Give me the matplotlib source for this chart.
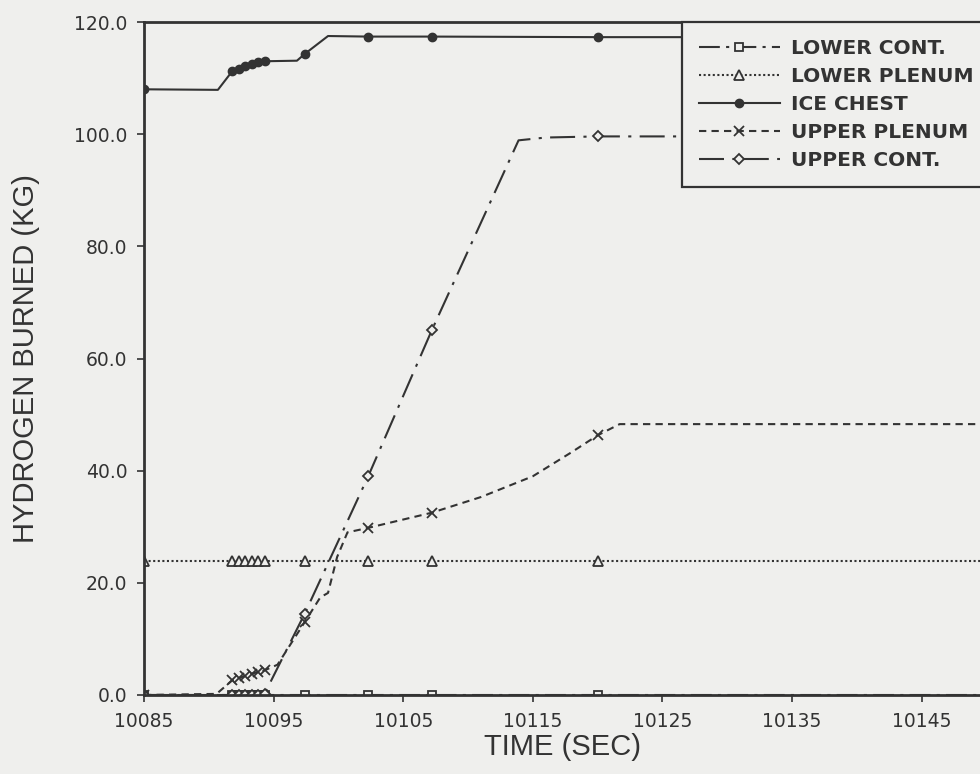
import matplotlib
matplotlib.use("Agg")
import matplotlib.pyplot as plt

# values: time (sec) vs hydrogen burned (kg)
lower_cont_t = [10085, 10091.8, 10092.3, 10092.8, 10093.3, 10093.8, 10094.3,
                10097.4, 10102.3, 10107.2, 10120, 10150]
lower_cont_v = [0, 0, 0, 0, 0, 0, 0, 0, 0, 0, 0, 0]

lower_plenum_t = [10085, 10091.8, 10092.3, 10092.8, 10093.3, 10093.8, 10094.3,
                  10097.4, 10102.3, 10107.2, 10120, 10150]
lower_plenum_v = [23.9, 23.9, 23.9, 23.9, 23.9, 23.9, 23.9, 23.9, 23.9, 23.9, 23.9, 23.9]

ice_chest_t = [10085, 10090.7, 10091.8, 10092.3, 10092.8, 10093.3, 10093.8, 10094.3,
               10096.8, 10097.4, 10099.2, 10102.3, 10107.2, 10120, 10150]
ice_chest_v = [108.0, 107.9, 111.2, 111.7, 112.1, 112.5, 112.8, 113.0,
               113.1, 114.3, 117.5, 117.4, 117.4, 117.3, 117.3]
ice_chest_marks = [0, 2, 3, 4, 5, 6, 7, 9, 11, 12, 13]

upper_plenum_t = [10085, 10090.6, 10091.8, 10092.3, 10092.8, 10093.3, 10093.8, 10094.3,
                  10095.3, 10097.4, 10098.6, 10099.2, 10099.9, 10100.7, 10102.3,
                  10107.2, 10111, 10115, 10118, 10120, 10121.7, 10150]
upper_plenum_v = [0, 0.2, 2.6, 3.0, 3.4, 3.8, 4.1, 4.4,
                  5.4, 13.0, 17.4, 18.2, 24.6, 29.0, 29.8,
                  32.5, 35.3, 39.0, 43.3, 46.3, 48.3, 48.3]
upper_plenum_marks = [0, 2, 3, 4, 5, 6, 7, 9, 14, 15, 19]

upper_cont_t = [10085, 10091.8, 10092.3, 10092.8, 10093.3, 10093.8, 10094.3,
                10097.4, 10102.3, 10107.2, 10113.9, 10116, 10120, 10150]
upper_cont_v = [0, 0, 0, 0, 0, 0, 0.2, 14.5, 39.0, 65.0, 98.9, 99.4, 99.6, 99.6]
upper_cont_marks = [0, 1, 2, 3, 4, 5, 6, 7, 8, 9, 12]

x_ticks = [10085, 10095, 10105, 10115, 10125, 10135, 10145]
y_ticks = [0, 20, 40, 60, 80, 100, 120]

bg = "#efefed"
ink = "#333333"

fig = plt.figure(figsize=(9.8, 7.74), dpi=100, facecolor=bg)
ax = fig.add_axes([144 / 980, 1 - 695 / 774, 836 / 980, 673 / 774], facecolor=bg)

lw = 1.5
ax.plot(lower_cont_t, lower_cont_v, color=ink, lw=lw, ls=(0, (10, 3, 1.5, 3)),
        marker="s", ms=5.5, mfc=bg, mec=ink, mew=1.3, label="LOWER CONT.")
ax.plot(lower_plenum_t, lower_plenum_v, color=ink, lw=lw, ls=(0, (1, 1.2)),
        marker="^", ms=6.5, mfc=bg, mec=ink, mew=1.3, label="LOWER PLENUM")
ax.plot(ice_chest_t, ice_chest_v, color=ink, lw=lw, ls="-",
        marker="o", ms=6, mfc=ink, mec=ink, markevery=ice_chest_marks, label="ICE CHEST")
ax.plot(upper_plenum_t, upper_plenum_v, color=ink, lw=lw, ls=(0, (3.5, 2.5)),
        marker="x", ms=6.5, mew=1.3, markevery=upper_plenum_marks, label="UPPER PLENUM")
ax.plot(upper_cont_t, upper_cont_v, color=ink, lw=lw, ls=(0, (12, 4, 1.5, 4)),
        marker="D", ms=5, mfc=bg, mec=ink, mew=1.3, markevery=upper_cont_marks, label="UPPER CONT.")

ax.set_xlim(10085, 10085 + 836 / 12.96)
ax.set_ylim(0, 120)
ax.set_xticks(x_ticks)
ax.set_yticks(y_ticks)
ax.set_yticklabels([f"{v:.1f}" for v in y_ticks])

for side in ["left", "top", "bottom"]:
    ax.spines[side].set_color(ink)
    ax.spines[side].set_linewidth(2.0)
ax.spines["right"].set_visible(False)

ax.tick_params(direction="out", length=5, width=1.2, color=ink,
               labelsize=13.5, labelcolor=ink, pad=7)

ax.set_xlabel("TIME (SEC)", family="Liberation Sans", fontsize=21, color=ink)
ax.set_ylabel("HYDROGEN BURNED (KG)", family="Liberation Sans", fontsize=21, color=ink)
ax.yaxis.set_label_coords(-0.125, 0.5)
ax.xaxis.set_label_coords(0.5, -0.057)

leg = ax.legend(loc="upper left", bbox_to_anchor=((682 - 144) / 836, 1.0),
                borderaxespad=0, fancybox=False, framealpha=1, facecolor=bg,
                edgecolor=ink, handlelength=4.0, handletextpad=0.55,
                labelspacing=0.45, borderpad=0.85,
                prop={"family": "DejaVu Sans", "weight": "bold", "size": 14.5})
leg.get_frame().set_linewidth(1.6)
for t in leg.get_texts():
    t.set_color(ink)

fig.savefig("out.png", dpi=100, facecolor=bg)
